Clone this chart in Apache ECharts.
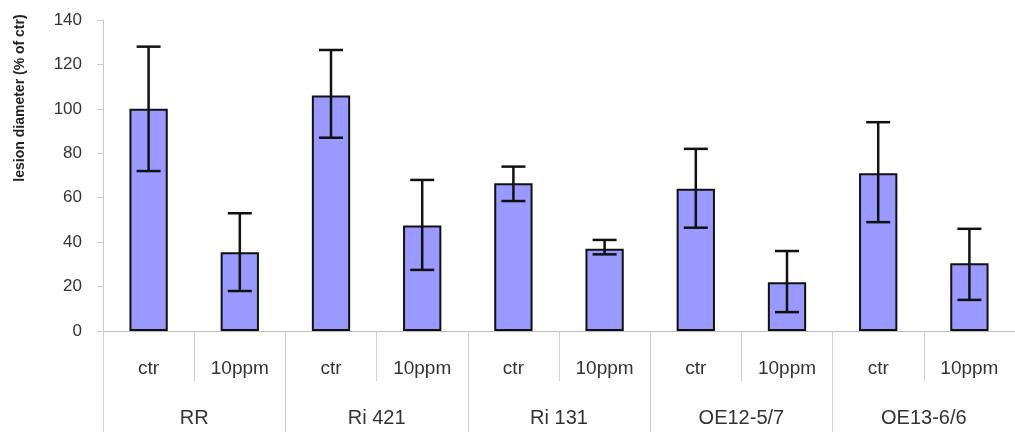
<!DOCTYPE html>
<html>
<head>
<meta charset="utf-8">
<script src="https://cdn.jsdelivr.net/npm/echarts@6/dist/echarts.min.js"></script>
<style>
html,body{margin:0;padding:0;background:#fff;}
#chart{width:1015px;height:433px;}
</style>
</head>
<body>
<div id="chart"></div>
<script>
const groups = ['RR', 'Ri 421', 'Ri 131', 'OE12-5/7', 'OE13-6/6'];
const subLabels = ['ctr', '10ppm', 'ctr', '10ppm', 'ctr', '10ppm', 'ctr', '10ppm', 'ctr', '10ppm'];
const values = [100, 35.5, 106, 47.5, 66.5, 37, 64, 22, 71, 30.5];
const lows = [72, 18, 87, 27.5, 58.5, 34.5, 46.5, 8.5, 49, 14];
const highs = [128, 53, 126.5, 68, 74, 41, 82, 36, 94, 46];
const yTicks = { min: 0, max: 140, interval: 20 };
const yTitle = 'lesion diameter (% of ctr)';

const chart = echarts.init(document.getElementById('chart'));
const errData = values.map((v, i) => [i, lows[i], highs[i]]);
const font = 'Liberation Sans, Arial, sans-serif';

chart.setOption({
  animation: false,
  grid: { left: 103, right: 0, top: 20, bottom: 102 },
  graphic: [{
    type: 'text',
    x: 20, y: 98,
    rotation: Math.PI / 2,
    style: {
      text: yTitle,
      font: 'bold 14px ' + font,
      fill: '#222',
      align: 'center',
      verticalAlign: 'middle'
    }
  }],
  xAxis: [{
    type: 'category',
    data: subLabels,
    position: 'bottom',
    axisLine: { show: true, lineStyle: { color: '#bbbbbb', width: 1 } },
    axisTick: { show: true, length: 50, interval: 0, lineStyle: { color: '#d0d0d0' } },
    axisLabel: { interval: 0, margin: 28, fontSize: 19, color: '#333', fontFamily: font }
  }, {
    type: 'category',
    data: groups,
    position: 'bottom',
    axisLine: { show: false },
    axisTick: { show: true, length: 101, interval: 0, lineStyle: { color: '#d0d0d0' } },
    axisLabel: { interval: 0, margin: 77, fontSize: 20, color: '#333', fontFamily: font }
  }],
  yAxis: {
    type: 'value',
    min: yTicks.min, max: yTicks.max, interval: yTicks.interval,
    axisLine: { show: true, lineStyle: { color: '#c8c8c8' } },
    axisTick: { show: true, length: 6, lineStyle: { color: '#c8c8c8' } },
    splitLine: { show: false },
    axisLabel: { margin: 21, fontSize: 17, color: '#333', fontFamily: font }
  },
  series: [{
    type: 'bar',
    xAxisIndex: 0,
    data: values,
    barWidth: '42%',
    itemStyle: { color: '#9999ff', borderColor: '#111', borderWidth: 2 }
  }, {
    type: 'custom',
    xAxisIndex: 0,
    data: errData,
    z: 10,
    renderItem: function (params, api) {
      const hi = api.coord([api.value(0), api.value(2)]);
      const lo = api.coord([api.value(0), api.value(1)]);
      const hw = 12;
      const st = { stroke: '#111', lineWidth: 2.5 };
      return {
        type: 'group',
        children: [
          { type: 'line', shape: { x1: hi[0], y1: hi[1], x2: lo[0], y2: lo[1] }, style: st },
          { type: 'line', shape: { x1: hi[0] - hw, y1: hi[1], x2: hi[0] + hw, y2: hi[1] }, style: st },
          { type: 'line', shape: { x1: lo[0] - hw, y1: lo[1], x2: lo[0] + hw, y2: lo[1] }, style: st }
        ]
      };
    }
  }]
});
</script>
</body>
</html>
